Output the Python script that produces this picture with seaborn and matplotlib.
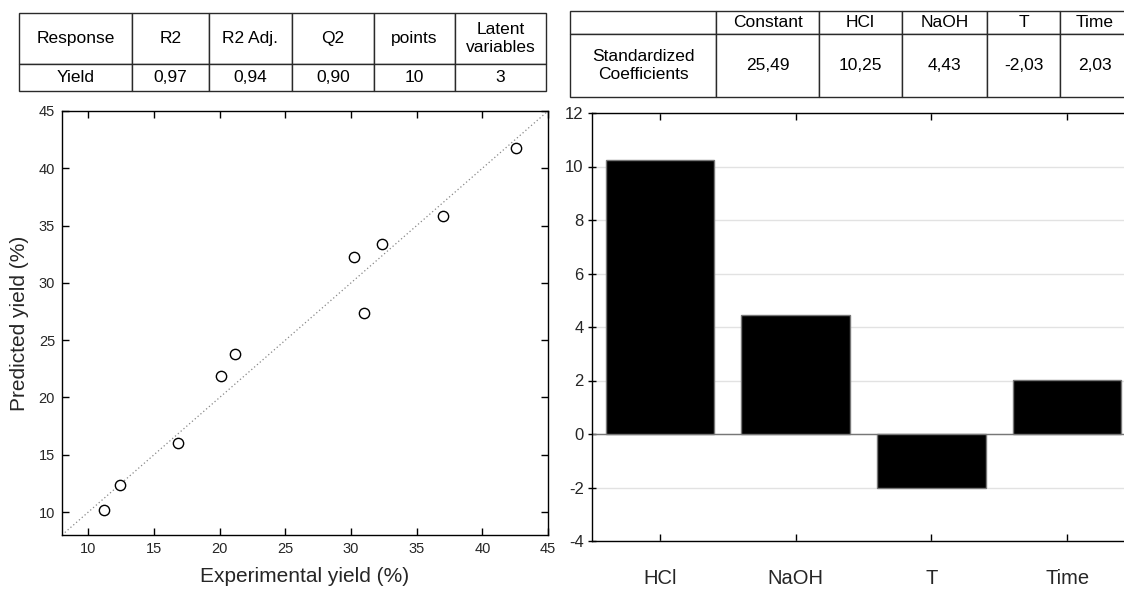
import numpy as np
import pandas as pd
import seaborn as sns
from matplotlib import pyplot as plt

# values
experimental = [11.2, 12.4, 16.8, 20.1, 21.2, 30.2, 31.0, 32.4, 37.0, 42.6]
predicted = [10.2, 12.4, 16.0, 21.9, 23.8, 32.3, 27.4, 33.4, 35.8, 41.8]

factors = ['HCl', 'NaOH', 'T', 'Time']
coefficients = [10.25, 4.43, -2.03, 2.03]

fit_header = ['Response', 'R2', 'R2 Adj.', 'Q2', 'points', 'Latent\nvariables']
fit_row = ['Yield', '0,97', '0,94', '0,90', '10', '3']

coef_header = ['', 'Constant', 'HCl', 'NaOH', 'T', 'Time']
coef_row = ['Standardized\nCoefficients', '25,49', '10,25', '4,43', '-2,03', '2,03']

sns.set_theme(style="white")
plt.rcParams['font.family'] = ['Liberation Sans', 'DejaVu Sans']
plt.rcParams['axes.unicode_minus'] = False

W, H = 1124, 595
fig = plt.figure(figsize=(W / 100, H / 100), dpi=100)


def px_axes(left, top, right, bottom):
    return fig.add_axes([left / W, 1 - bottom / H, (right - left) / W, (bottom - top) / H])


def draw_table(ax, rows, col_edges, row_edges, fontsize=12.5):
    ax.axis('off')
    tab = ax.table(cellText=rows, cellLoc='center', bbox=[0, 0, 1, 1])
    tab.auto_set_font_size(False)
    widths = np.diff(col_edges)
    heights = np.diff(row_edges)
    for (r, c), cell in tab.get_celld().items():
        cell.set_width(widths[c])
        cell.set_height(heights[r])
        cell.set_edgecolor('#2a2a2a')
        cell.set_linewidth(1)
        cell.get_text().set_fontsize(fontsize)
        cell.get_text().set_color('black')
    return tab


# tables
ax_t1 = px_axes(19, 13, 546, 91)
draw_table(ax_t1, [fit_header, fit_row], [19, 132, 209, 292, 374, 455, 546], [13, 64, 91])

ax_t2 = px_axes(570, 11, 1130, 97)
draw_table(ax_t2, [coef_header, coef_row], [570, 716, 819, 902, 987, 1060, 1130], [11, 34, 97])

# predicted vs experimental
ax1 = px_axes(62, 111, 548, 535)
df_fit = pd.DataFrame({'exp': experimental, 'pred': predicted})
ax1.axline((10, 10), slope=1, color='#888888', ls=(0, (1, 2)), lw=0.9, zorder=1)
sns.scatterplot(data=df_fit, x='exp', y='pred', ax=ax1, s=55, marker='o',
                facecolor='white', edgecolor='black', linewidth=1, zorder=3)
ax1.set_xlim(8, 45)
ax1.set_ylim(8, 45)
ax1.set_xticks(range(10, 46, 5))
ax1.set_yticks(range(10, 46, 5))
ax1.tick_params(direction='in', bottom=True, left=True, top=True, right=True,
                length=5, width=1, color='black', labelsize=10.5, pad=5)
ax1.set_xlabel('Experimental yield (%)', fontsize=15, labelpad=8)
ax1.set_ylabel('Predicted yield (%)', fontsize=15, labelpad=7)
for sp in ax1.spines.values():
    sp.set_color('black')
    sp.set_linewidth(1)

# standardized coefficients
ax2 = px_axes(592, 113, 1135, 541)
df_coef = pd.DataFrame({'factor': factors, 'coef': coefficients})
ax2.yaxis.grid(True, color='#e2e2e2', lw=1)
ax2.set_axisbelow(True)
ax2.axhline(0, color='#777777', lw=1, zorder=2)
sns.barplot(data=df_coef, x='factor', y='coef', ax=ax2, color='black', saturation=1,
            width=0.8, edgecolor='#777777', linewidth=1, zorder=3)
ax2.set_xlim(-0.5, 3.5)
ax2.set_ylim(-4, 12)
ax2.set_yticks(range(-4, 13, 2))
ax2.set_xlabel('')
ax2.set_ylabel('')
ax2.tick_params(axis='x', direction='in', bottom=True, top=True, length=5, width=1,
                color='black', labelsize=14.5, pad=20)
ax2.tick_params(axis='y', direction='inout', left=True, length=6, width=1,
                color='black', labelsize=12, pad=3)
for lab in ax2.get_yticklabels():
    lab.set_family(['Liberation Sans Narrow', 'Liberation Sans'])
for sp in ax2.spines.values():
    sp.set_color('black')
    sp.set_linewidth(1)

fig.savefig('out.png', dpi=100)
